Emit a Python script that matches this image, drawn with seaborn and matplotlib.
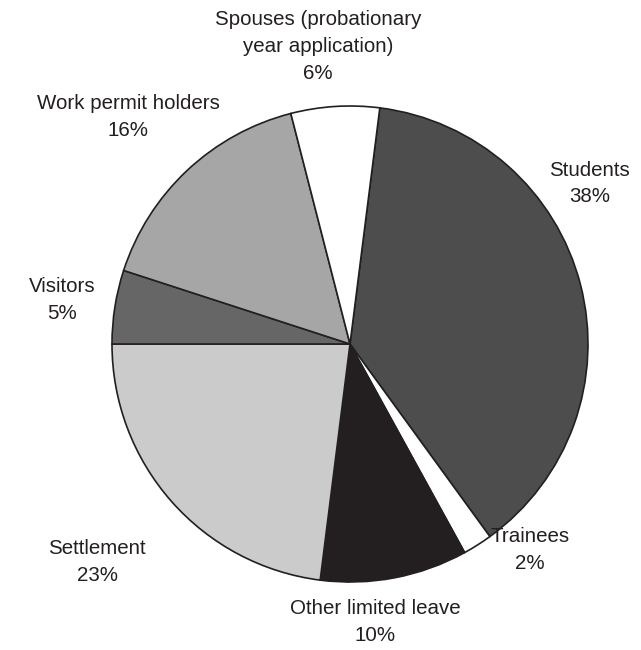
import matplotlib
matplotlib.use("Agg")
import matplotlib.pyplot as plt
import seaborn as sns

# Share of each category (percent), in clockwise order from the top
categories = ["Students", "Trainees", "Other limited leave", "Settlement",
              "Visitors", "Work permit holders",
              "Spouses (probationary\nyear application)"]
shares = [38, 2, 10, 23, 5, 16, 6]
tick_labels = [f"{c}\n{v}%" for c, v in zip(categories, shares)]

# Grey fills for the wedges
fills = ["#4d4d4d", "#ffffff", "#231f20", "#cbcbcb", "#666666", "#a6a6a6", "#ffffff"]

# Label anchors (data units, pie radius = 1)
label_pos = [(1.008, 0.674), (0.756, -0.866), (0.105, -1.168), (-1.063, -0.916),
             (-1.210, 0.185), (-0.933, 0.954), (-0.134, 1.250)]

sns.set_theme(style="white")
plt.rcParams["font.family"] = ["Liberation Sans", "DejaVu Sans"]

W, H, DPI = 641, 650, 100
fig = plt.figure(figsize=(W / DPI, H / DPI), dpi=DPI)
ax = fig.add_axes([0, 0, 1, 1])

ax.pie(shares, colors=fills, startangle=82.8, counterclock=False,
       radius=1.0, center=(0, 0),
       wedgeprops=dict(edgecolor="#231f20", linewidth=1.2))

for text, (x, y) in zip(tick_labels, label_pos):
    ax.text(x, y, text, ha="center", va="center", fontsize=14.8,
            color="#231f20", linespacing=1.52)

# pixel scale: 238 px per data unit, pie centre at (350, 344) from top-left
scale = 238.0
cx, cy = 350.0, 344.0
ax.set_xlim(-cx / scale, (W - cx) / scale)
ax.set_ylim(-(H - cy) / scale, cy / scale)
ax.set_aspect("equal")
ax.axis("off")

fig.savefig("out.png", dpi=DPI, facecolor="white")
